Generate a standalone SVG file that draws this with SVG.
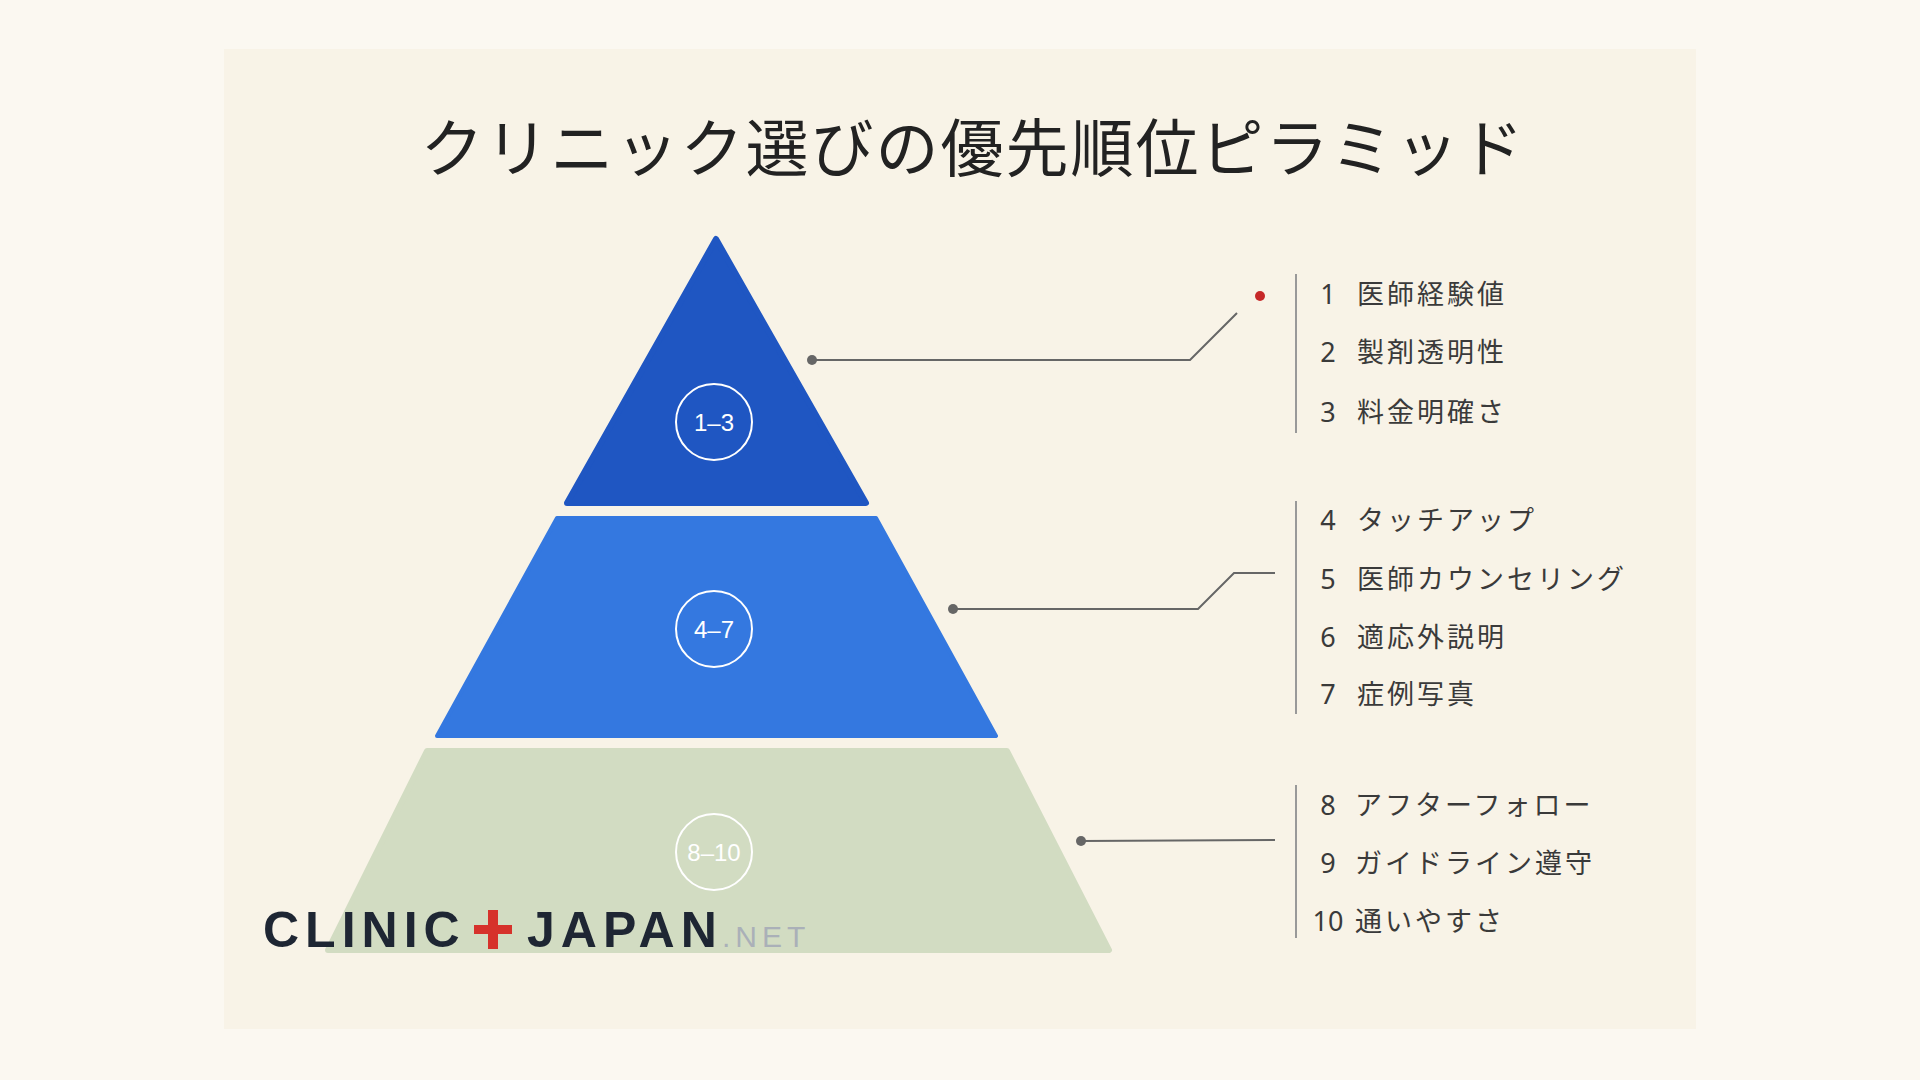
<svg xmlns="http://www.w3.org/2000/svg" width="1920" height="1080" viewBox="0 0 1920 1080">
<style>
.lbl{font-family:"Liberation Sans","Noto Sans",sans-serif;font-size:24px;fill:#fff;text-anchor:middle}
.num{font-family:"Noto Sans","Noto Sans CJK JP",sans-serif;font-size:27px;fill:#3a3a3a;text-anchor:middle}
.itm{font-family:"Noto Sans CJK JP",sans-serif;font-size:27px;fill:#3a3a3a;letter-spacing:3px}
.ln{fill:none;stroke:#666;stroke-width:2}
.vl{stroke:#999;stroke-width:2}
.ring{fill:none;stroke:#fff;stroke-width:2}
</style>
<rect width="1920" height="1080" fill="#fbf8f1"/>
<rect x="224" y="49" width="1472" height="980" fill="#f8f3e7"/>
<text x="973" y="171" text-anchor="middle" font-family="Noto Sans CJK JP,sans-serif" font-size="63" fill="#222" letter-spacing="2">クリニック選びの優先順位ピラミッド</text>
<g id="tier1"><path d="M716,239 L866,503 L567,503 Z" fill="#1f56c2" stroke="#1f56c2" stroke-width="6" stroke-linejoin="round"/><circle class="ring" cx="714" cy="422" r="38"/><text class="lbl" x="714" y="431">1–3</text></g>
<g id="tier2"><path d="M557,518 L876,518 L996,736 L437,736 Z" fill="#3478e0" stroke="#3478e0" stroke-width="4" stroke-linejoin="round"/><circle class="ring" cx="714" cy="629" r="38"/><text class="lbl" x="714" y="638">4–7</text></g>
<g id="tier3"><path d="M427,751 L1007,751 L1109,950 L328,950 Z" fill="#d2dcc2" stroke="#d2dcc2" stroke-width="6" stroke-linejoin="round"/><circle class="ring" cx="714" cy="852" r="38"/><text class="lbl" x="714" y="861">8–10</text></g>
<g id="connectors">
<path class="ln" d="M812,360 L1190,360 L1237,313"/><circle cx="812" cy="360" r="5" fill="#666"/><circle cx="1260" cy="296" r="5" fill="#c62828"/>
<path class="ln" d="M953,609 L1198,609 L1234,573 L1275,573"/><circle cx="953" cy="609" r="5" fill="#666"/>
<path class="ln" d="M1081,841 L1275,840"/><circle cx="1081" cy="841" r="5" fill="#666"/>
<line class="vl" x1="1296" y1="274" x2="1296" y2="433"/>
<line class="vl" x1="1296" y1="501" x2="1296" y2="714"/>
<line class="vl" x1="1296" y1="785" x2="1296" y2="938"/>
</g>
<g id="list">
<text class="num" x="1328" y="304">1</text><text class="itm" x="1357" y="304">医師経験値</text>
<text class="num" x="1328" y="362">2</text><text class="itm" x="1357" y="362">製剤透明性</text>
<text class="num" x="1328" y="422">3</text><text class="itm" x="1357" y="422">料金明確さ</text>
<text class="num" x="1328" y="530">4</text><text class="itm" x="1357" y="530">タッチアップ</text>
<text class="num" x="1328" y="589">5</text><text class="itm" x="1357" y="589">医師カウンセリング</text>
<text class="num" x="1328" y="647">6</text><text class="itm" x="1357" y="647">適応外説明</text>
<text class="num" x="1328" y="704">7</text><text class="itm" x="1357" y="704">症例写真</text>
<text class="num" x="1328" y="815">8</text><text class="itm" x="1355" y="815">アフターフォロー</text>
<text class="num" x="1328" y="873">9</text><text class="itm" x="1355" y="873">ガイドライン遵守</text>
<text class="num" x="1328" y="931">10</text><text class="itm" x="1355" y="931">通いやすさ</text>
</g>
<g id="logo" font-family="Liberation Sans,sans-serif">
<text x="263" y="947" font-size="50" font-weight="bold" fill="#1e2633" letter-spacing="6">CLINIC</text>
<rect x="474" y="925" width="38" height="9" fill="#d6322b"/><rect x="488" y="910" width="10" height="39" fill="#d6322b"/>
<text x="527" y="947" font-size="50" font-weight="bold" fill="#1e2633" letter-spacing="6">JAPAN</text>
<text x="722" y="947" font-size="30" fill="#aab0b8" letter-spacing="5">.NET</text>
</g>
</svg>
